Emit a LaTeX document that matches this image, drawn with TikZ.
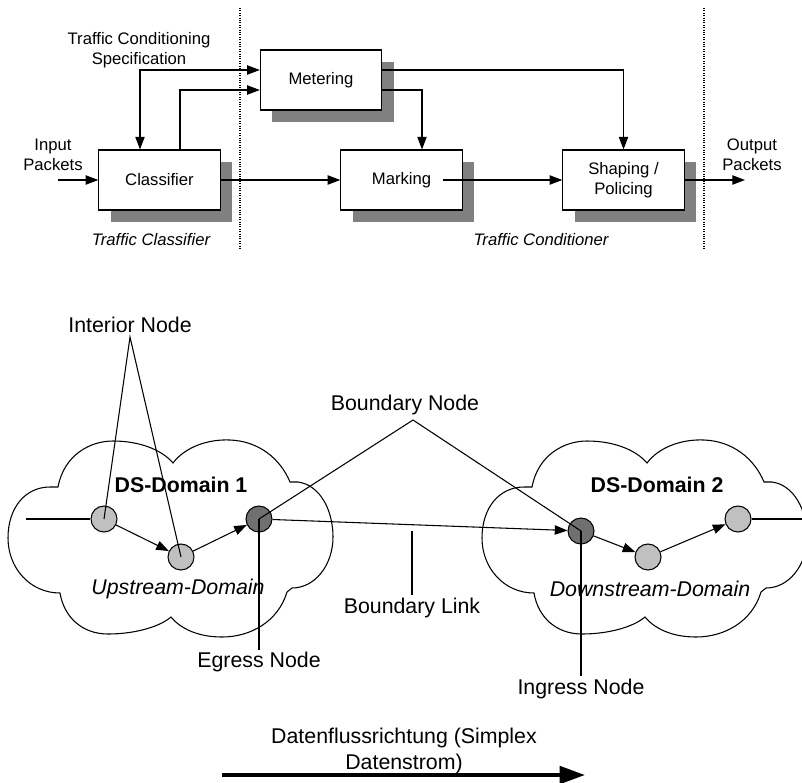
\documentclass[tikz,border=0pt]{standalone}
\usepackage{fontspec}
\setmainfont{Liberation Sans}
\usetikzlibrary{arrows.meta,shadows}
\definecolor{shgray}{RGB}{128,128,128}
\definecolor{lightnode}{RGB}{192,192,192}
\definecolor{darknode}{RGB}{112,112,112}
\newcommand{\cloudshape}{%
  (58,487) .. controls (64,455) and (90,441) .. (113,441)
  .. controls (140,441) and (162,450) .. (173,463)
  .. controls (185,447) and (208,439) .. (230,440)
  .. controls (258,441) and (280,458) .. (290,482)
  -- (298,482)
  .. controls (320,485) and (333,510) .. (333,537)
  .. controls (333,565) and (315,588) .. (292,588)
  -- (287,592)
  .. controls (278,622) and (250,637) .. (222,637)
  .. controls (197,637) and (180,628) .. (171,617)
  .. controls (158,628) and (132,634) .. (108,634)
  .. controls (82,634) and (64,617) .. (60,593)
  .. controls (30,593) and (8,568) .. (8,538)
  .. controls (8,508) and (25,487) .. (50,487)
  -- cycle}
\begin{document}
\begin{tikzpicture}[x=0.75pt,y=-0.75pt,line width=0.8pt,
  >={Triangle[length=9.5pt,width=7pt]},
  procbox/.style={draw,fill=white,minimum width=91pt,minimum height=45pt,
    align=center,inner sep=0pt,font=\fontsize{12.5}{15}\selectfont,
    drop shadow={shadow xshift=9pt,shadow yshift=-9pt,fill=shgray,opacity=1}},
  toplbl/.style={align=center,inner sep=0pt,font=\fontsize{12.5}{15}\selectfont},
  botlbl/.style={align=center,inner sep=0pt,font=\fontsize{16}{19.5}\selectfont},
  inode/.style={circle,draw,fill=lightnode,minimum size=19.5pt,inner sep=0pt},
  dnode/.style={circle,draw,fill=darknode,minimum size=19.5pt,inner sep=0pt},
  sepline/.style={densely dotted,line width=0.8pt}]
\useasboundingbox (0,0) rectangle (802,782);

% ---------- top: traffic conditioning ----------
\node[procbox] (cls) at (159.5,180) {Classifier};
\node[procbox] (met) at (321,80) {Metering};
\node[procbox] (mrk) at (401.5,180) {Marking};
\node[procbox] (shp) at (623.5,180) {Shaping /\\Policing};

\node[toplbl] (tcs) at (139,50) {Traffic Conditioning\\Specification};
\node[toplbl] (inp) at (53,155) {Input\\Packets};
\node[toplbl] (outp) at (752,155) {Output\\Packets};
\node[toplbl,font=\fontsize{12.5}{15}\selectfont\itshape] (tcl) at (151,240) {Traffic Classifier};
\node[toplbl,font=\fontsize{12.5}{15}\selectfont\itshape] (tco) at (541,240) {Traffic Conditioner};

\coordinate (tc) at (140,70);
\coordinate (cm) at (180,90);
\coordinate (mm) at (422,90);
\coordinate (ins) at (58,180);
\coordinate (mko) at (443,180);
\coordinate (oute) at (745,180);

\draw[<->] (cls.north -| tc) |- (met.west |- tc);
\draw[->] (cls.north -| cm) |- (met.west |- cm);
\draw[->] (met.east |- mm) -| (mrk.north -| mm);
\draw[->] (met.east |- tc) -| (shp.north);
\draw[->] (ins) -- (cls.west);
\draw[->] (cls.east) -- (mrk.west);
\draw[->] (mko) -- (shp.west);
\draw[->] (shp.east) -- (oute);

\coordinate (d1t) at (240,8);
\coordinate (d1b) at (240,250);
\coordinate (d2t) at (704,8);
\coordinate (d2b) at (704,250);
\draw[sepline] (d1t) -- (d1b);
\draw[sepline] (d2t) -- (d2b);

% ---------- bottom: DS domains ----------
\draw \cloudshape;
\begin{scope}
  \clip (0,0) rectangle (802,782);
  \begin{scope}[shift={(474,0)}]
    \draw \cloudshape;
  \end{scope}
\end{scope}

\node[botlbl,font=\fontsize{16}{19.5}\selectfont\bfseries] (dom1) at (181,485) {DS-Domain 1};
\node[botlbl,font=\fontsize{16}{19.5}\selectfont\bfseries] (dom2) at (657,485) {DS-Domain 2};
\node[botlbl,font=\fontsize{16}{19.5}\selectfont\itshape] (up) at (178,589) {Upstream-Domain};
\node[botlbl,font=\fontsize{16}{19.5}\selectfont\itshape] (down) at (650,589) {Downstream-Domain};

\node[inode] (n1) at (104,519) {};
\node[inode] (n2) at (181,557) {};
\node[dnode] (eg) at (259,519) {};
\node[dnode] (ig) at (581,531) {};
\node[inode] (n3) at (648,557) {};
\node[inode] (n4) at (738,519) {};

\coordinate (lin) at (26,519);
\coordinate (rout) at (802,519);
\draw (lin) -- (n1);
\draw[->] (n1) -- (n2);
\draw[->] (n2) -- (eg);
\draw[->] (eg) -- (ig);
\draw[->] (ig) -- (n3);
\draw[->] (n3) -- (n4);
\draw (n4) -- (rout);

\node[botlbl] (intl) at (130,325) {Interior Node};
\coordinate (ia) at (130,337);
\draw (n1.center) -- (ia) -- (n2.center);

\node[botlbl] (bnl) at (405,405) {Boundary Node};
\coordinate (ba) at (413,420);
\draw (eg.center) -- (ba) -- (ig.center);

\coordinate (ege) at (259,650);
\draw (eg.center) -- (ege);
\node[botlbl] (egl) at (259,662) {Egress Node};

\coordinate (ige) at (581,676);
\draw (ig.center) -- (ige);
\node[botlbl] (igl) at (581,689) {Ingress Node};

\coordinate (blt) at (412,531);
\coordinate (blb) at (412,595);
\draw (blt) -- (blb);
\node[botlbl] (bll) at (412,608) {Boundary Link};

\node[botlbl,font=\fontsize{16}{19.5}\selectfont] (dfl) at (404,751) {Datenflussrichtung (Simplex\\Datenstrom)};
\coordinate (das) at (222,775);
\coordinate (dae) at (585,775);
\draw[line width=3pt,-{Triangle[length=19pt,width=13pt]}] (das) -- (dae);
\end{tikzpicture}
\end{document}
